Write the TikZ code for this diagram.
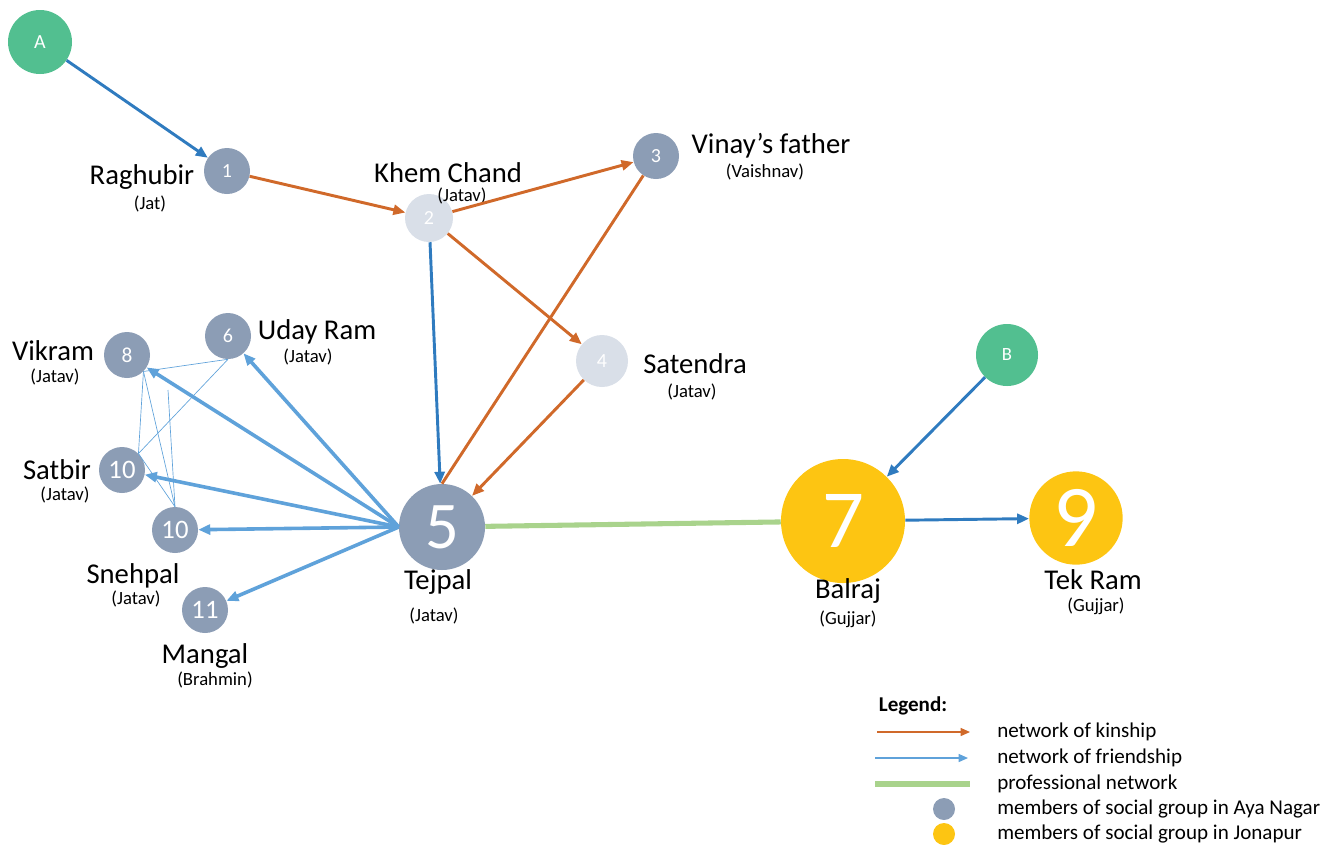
\documentclass[tikz,border=0pt]{standalone}
\usepackage{fontspec}
\setmainfont{Carlito}
\usepackage{tikz}
\usetikzlibrary{arrows.meta}
\definecolor{grayblue}{HTML}{8C9DB5}
\definecolor{paleblue}{HTML}{D9DFE8}
\definecolor{seedgreen}{HTML}{52BF90}
\definecolor{gold}{HTML}{FDC512}
\definecolor{kinorange}{HTML}{D0692A}
\definecolor{darkblue}{HTML}{2F7BBF}
\definecolor{friendblue}{HTML}{5FA2DA}
\definecolor{profgreen}{HTML}{A9D38C}

\begin{document}
\begin{tikzpicture}[x=0.75pt,y=-0.75pt,line join=round,
  >={Triangle[length=9pt,width=7.5pt]},
  member/.style={circle,fill=grayblue,text=white,inner sep=0pt,minimum size=34.5pt,font=\fontsize{15}{15}\selectfont},
  palemember/.style={member,fill=paleblue},
  seednode/.style={circle,fill=seedgreen,text=white,inner sep=0pt,font=\fontsize{15}{15}\selectfont},
  jonapur/.style={circle,fill=gold,text=white,inner sep=0pt},
  personname/.style={inner sep=0pt,font=\fontsize{21.5}{24}\selectfont},
  castename/.style={inner sep=0pt,font=\fontsize{14}{16}\selectfont},
  legendtext/.style={inner sep=0pt,anchor=west,font=\fontsize{15.8}{18}\selectfont},
  kin/.style={->,kinorange,line width=2.2pt},
  seedlink/.style={->,darkblue,line width=2.2pt},
  friend/.style={->,friendblue,line width=2.7pt},
  friendmesh/.style={friendblue,line width=0.5pt},
  prof/.style={profgreen,line width=3.8pt}]
  \useasboundingbox (0,0) rectangle (1338,844);
  \node[seednode,minimum size=48pt] (A) at (40,42) {A};
  \node[seednode,minimum size=46.5pt,font=\fontsize{14}{14}\selectfont] (B) at (1007,355) {B};
  \node[member] (N1) at (227,171) {1};
  \node[palemember,minimum size=36pt] (N2) at (429,218) {2};
  \node[member] (N3) at (656,156) {3};
  \node[palemember,minimum size=39pt] (N4) at (602,361) {4};
  \node[member,minimum size=64.5pt,font=\fontsize{50}{50}\selectfont] (N5) at (442,527) {5};
  \node[member] (N6) at (228,336) {6};
  \node[jonapur,minimum size=93pt,font=\fontsize{62}{62}\selectfont] (N7) at (843,521) {7};
  \node[member,font=\fontsize{16}{16}\selectfont] (N8) at (127,355) {8};
  \node[jonapur,minimum size=70pt,font=\fontsize{66}{66}\selectfont] (N9) at (1076,518) {9};
  \node[member,font=\fontsize{20}{20}\selectfont] (N10a) at (122,470) {10};
  \node[member,font=\fontsize{20}{20}\selectfont] (N10b) at (175,530) {10};
  \node[member,font=\fontsize{20}{20}\selectfont] (N11) at (205,610) {11};
  \node[personname] (L1) at (142,177) {Raghubir};
  \node[castename] (C1) at (150,204) {(Jat)};
  \node[personname] (L2) at (448,173) {Khem Chand};
  \node[castename] (C2) at (462,196) {(Jatav)};
  \node[personname] (L3) at (771,146) {Vinay’s father};
  \node[castename] (C3) at (765,172) {(Vaishnav)};
  \node[personname] (L4) at (695,364) {Satendra};
  \node[castename] (C4) at (692,392) {(Jatav)};
  \node[personname] (L5) at (438,582) {Tejpal};
  \node[castename] (C5) at (434,616) {(Jatav)};
  \node[personname] (L6) at (317,332) {Uday Ram};
  \node[castename] (C6) at (308,357) {(Jatav)};
  \node[personname] (L7) at (848,591) {Balraj};
  \node[castename] (C7) at (848,619) {(Gujjar)};
  \node[personname] (L8) at (53,351) {Vikram};
  \node[castename] (C8) at (55,377) {(Jatav)};
  \node[personname] (L9) at (1093,580) {Tek Ram};
  \node[castename] (C9) at (1096,606) {(Gujjar)};
  \node[personname] (L10a) at (57,470) {Satbir};
  \node[castename] (C10a) at (65,495) {(Jatav)};
  \node[personname] (L10b) at (133,576) {Snehpal};
  \node[castename] (C10b) at (136,599) {(Jatav)};
  \node[personname] (L11) at (205,656) {Mangal};
  \node[castename] (C11) at (215,680) {(Brahmin)};
  \coordinate (M1) at (168,390);
  \draw[friendmesh] (N8.south east) -- (N6.south);
  \draw[friendmesh] (N6.south) -- (N10a.north east);
  \draw[friendmesh] (N8.south east) -- (N10a.north east);
  \draw[friendmesh] (N8.south east) -- (N10b.north);
  \draw[friendmesh] (M1) -- (N10b.north);
  \draw[friendmesh] (N10a.north east) -- (N10b.north);
  \draw[prof] (N5) -- (N7);
  \draw[seedlink] (A) -- (N1);
  \draw[kin] (N1) -- (N2);
  \draw[kin] (N2) -- (N3);
  \draw[kin] (N2) -- (N4);
  \draw[seedlink] (N2) -- (N5);
  \draw[kin] (N4) -- (N5);
  \draw[kinorange,line width=2.2pt] (N5.north) -- (N3);
  \draw[friend] (N5.west) -- (N8);
  \draw[friend] (N5.west) -- (N6);
  \draw[friend] (N5.west) -- (N10a);
  \draw[friend] (N5.west) -- (N10b);
  \draw[friend] (N5.west) -- (N11);
  \draw[seedlink] (B) -- (N7);
  \draw[seedlink] (N7) -- (N9);
  \node[inner sep=0pt,font=\bfseries\fontsize{15.8}{18}\selectfont] (LG) at (913,706) {Legend:};
  \coordinate (K0) at (877,732);
  \coordinate (K1) at (970,732);
  \coordinate (F0) at (875,758);
  \coordinate (F1) at (968,758);
  \coordinate (P0) at (875,784);
  \coordinate (P1) at (970,784);
  \draw[->,kinorange,line width=0.9pt,>={Triangle[length=7pt,width=6pt]}] (K0) -- (K1);
  \draw[->,friendblue,line width=0.9pt,>={Triangle[length=7pt,width=6pt]}] (F0) -- (F1);
  \draw[prof] (P0) -- (P1);
  \node[circle,fill=grayblue,inner sep=0pt,minimum size=16.5pt] (D1) at (944,809) {};
  \node[circle,fill=gold,inner sep=0pt,minimum size=16.5pt] (D2) at (944,834) {};
  \node[legendtext] (T1) at (997,732) {network of kinship};
  \node[legendtext] (T2) at (997,758) {network of friendship};
  \node[legendtext] (T3) at (997,784) {professional network};
  \node[legendtext] (T4) at (997,809) {members of social group in Aya Nagar};
  \node[legendtext] (T5) at (997,834) {members of social group in Jonapur};
\end{tikzpicture}
\end{document}
